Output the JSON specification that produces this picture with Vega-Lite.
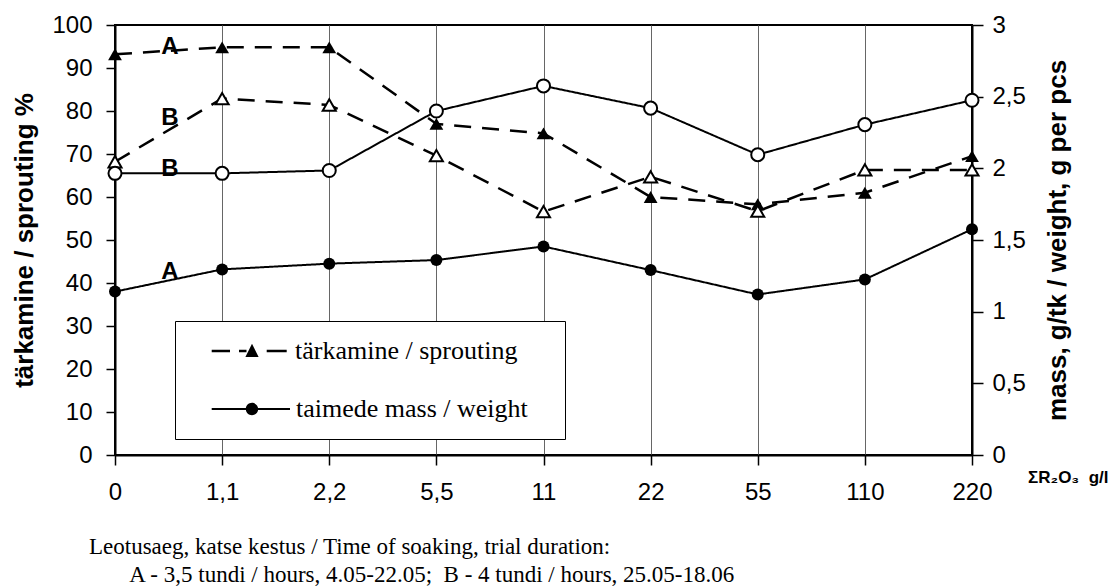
{
  "$schema": "https://vega.github.io/schema/vega-lite/v6.json",
  "width": 857,
  "height": 430,
  "autosize": {"type": "none"},
  "padding": {"left": 115, "top": 25, "right": 141, "bottom": 133},
  "background": "white",
  "config": {
    "view": {"stroke": "black", "strokeWidth": 2},
    "font": "Liberation Sans",
    "axis": {
      "labelFont": "Liberation Sans",
      "labelColor": "black",
      "labelFontSize": 24,
      "titleFont": "Liberation Sans",
      "titleColor": "black",
      "titleFontWeight": "bold",
      "domainColor": "black",
      "domainWidth": 2,
      "tickColor": "black",
      "tickWidth": 1.5
    }
  },
  "title": {
    "text": [
      "Leotusaeg, katse kestus / Time of soaking, trial duration:",
      "\u200b\u00a0\u00a0\u00a0\u00a0\u00a0\u00a0\u00a0A - 3,5 tundi / hours, 4.05-22.05;\u00a0 B - 4 tundi / hours, 25.05-18.06"
    ],
    "orient": "bottom",
    "anchor": "start",
    "frame": "group",
    "font": "Liberation Serif",
    "fontSize": 23,
    "fontWeight": "normal",
    "color": "black",
    "dx": -26,
    "offset": 32,
    "lineHeight": 28
  },
  "datasets": {
    "sprout": [
      {"x": "0", "series": "A", "measure": "tärkamine / sprouting", "value": 93.2},
      {"x": "1,1", "series": "A", "measure": "tärkamine / sprouting", "value": 94.8},
      {"x": "2,2", "series": "A", "measure": "tärkamine / sprouting", "value": 94.8},
      {"x": "5,5", "series": "A", "measure": "tärkamine / sprouting", "value": 77.0},
      {"x": "11", "series": "A", "measure": "tärkamine / sprouting", "value": 74.8},
      {"x": "22", "series": "A", "measure": "tärkamine / sprouting", "value": 60.0},
      {"x": "55", "series": "A", "measure": "tärkamine / sprouting", "value": 58.3},
      {"x": "110", "series": "A", "measure": "tärkamine / sprouting", "value": 61.0},
      {"x": "220", "series": "A", "measure": "tärkamine / sprouting", "value": 69.5},
      {"x": "0", "series": "B", "measure": "tärkamine / sprouting", "value": 68.2},
      {"x": "1,1", "series": "B", "measure": "tärkamine / sprouting", "value": 82.9},
      {"x": "2,2", "series": "B", "measure": "tärkamine / sprouting", "value": 81.4},
      {"x": "5,5", "series": "B", "measure": "tärkamine / sprouting", "value": 69.6},
      {"x": "11", "series": "B", "measure": "tärkamine / sprouting", "value": 56.6},
      {"x": "22", "series": "B", "measure": "tärkamine / sprouting", "value": 64.7},
      {"x": "55", "series": "B", "measure": "tärkamine / sprouting", "value": 56.7},
      {"x": "110", "series": "B", "measure": "tärkamine / sprouting", "value": 66.3},
      {"x": "220", "series": "B", "measure": "tärkamine / sprouting", "value": 66.3}
    ],
    "weight": [
      {"x": "0", "series": "A", "measure": "taimede mass / weight", "value": 1.14},
      {"x": "1,1", "series": "A", "measure": "taimede mass / weight", "value": 1.295},
      {"x": "2,2", "series": "A", "measure": "taimede mass / weight", "value": 1.335},
      {"x": "5,5", "series": "A", "measure": "taimede mass / weight", "value": 1.36},
      {"x": "11", "series": "A", "measure": "taimede mass / weight", "value": 1.455},
      {"x": "22", "series": "A", "measure": "taimede mass / weight", "value": 1.29},
      {"x": "55", "series": "A", "measure": "taimede mass / weight", "value": 1.12},
      {"x": "110", "series": "A", "measure": "taimede mass / weight", "value": 1.225},
      {"x": "220", "series": "A", "measure": "taimede mass / weight", "value": 1.575},
      {"x": "0", "series": "B", "measure": "taimede mass / weight", "value": 1.965},
      {"x": "1,1", "series": "B", "measure": "taimede mass / weight", "value": 1.965},
      {"x": "2,2", "series": "B", "measure": "taimede mass / weight", "value": 1.985},
      {"x": "5,5", "series": "B", "measure": "taimede mass / weight", "value": 2.40},
      {"x": "11", "series": "B", "measure": "taimede mass / weight", "value": 2.575},
      {"x": "22", "series": "B", "measure": "taimede mass / weight", "value": 2.42},
      {"x": "55", "series": "B", "measure": "taimede mass / weight", "value": 2.095},
      {"x": "110", "series": "B", "measure": "taimede mass / weight", "value": 2.305},
      {"x": "220", "series": "B", "measure": "taimede mass / weight", "value": 2.475}
    ],
    "notes": [
      {"x": "0", "lbl": "A", "value": 94.8},
      {"x": "0", "lbl": "B", "value": 78.3},
      {"x": "0", "lbl": "B", "value": 66.6},
      {"x": "0", "lbl": "A", "value": 42.6}
    ]
  },
  "encoding": {
    "x": {
      "field": "x",
      "type": "ordinal",
      "sort": ["0", "1,1", "2,2", "5,5", "11", "22", "55", "110", "220"],
      "scale": {"type": "point", "padding": 0, "domain": ["0", "1,1", "2,2", "5,5", "11", "22", "55", "110", "220"]},
      "axis": {
        "title": "ΣR₂O₃\u00a0 g/l",
        "titleX": 993,
        "titleY": 22,
        "titleAlign": "right",
        "titleBaseline": "middle",
        "titleFontSize": 17,
        "titleAngle": 0,
        "labelAngle": 0,
        "labelPadding": 15,
        "tickSize": 10,
        "grid": true,
        "gridColor": "#666666",
        "gridWidth": 1
      }
    }
  },
  "layer": [
    {
      "data": {"name": "sprout"},
      "encoding": {
        "y": {
          "field": "value",
          "type": "quantitative",
          "scale": {"domain": [0, 100], "nice": false, "zero": true},
          "axis": {
            "orient": "left",
            "title": "tärkamine / sprouting %",
            "titleX": -91,
            "titleY": 215,
            "titleAngle": 270,
            "titleAlign": "center",
            "titleBaseline": "middle",
            "titleFontSize": 26,
            "values": [0, 10, 20, 30, 40, 50, 60, 70, 80, 90, 100],
            "tickSize": 9,
            "labelPadding": 14,
            "grid": false
          }
        }
      },
      "layer": [
        {
          "mark": {"type": "line", "color": "black", "strokeWidth": 2.5},
          "encoding": {
            "detail": {"field": "series"},
            "order": {"value": null},
            "strokeDash": {
              "field": "measure",
              "type": "nominal",
              "scale": {"domain": ["tärkamine / sprouting"], "range": [[17, 11]]},
              "legend": {
                "title": "\u200b\u00a0\u00a0\u00a0\u00a0\u00a0\u00a0\u00a0\u00a0\u00a0\u00a0\u00a0\u00a0\u00a0\u00a0\u00a0\u00a0taimede mass / weight\u00a0\u00a0\u00a0\u200b",
                "titleOrient": "bottom",
                "titleFont": "Liberation Serif",
                "titleFontSize": 26,
                "titleFontWeight": "normal",
                "titleColor": "black",
                "titlePadding": 32,
                "titleLimit": 1000,
                "titleAnchor": "start",
                "orient": "none",
                "legendX": 60,
                "legendY": 296,
                "zindex": 0,
                "direction": "vertical",
                "padding": 17,
                "strokeColor": "black",
                "fillColor": "white",
                "labelFont": "Liberation Serif",
                "labelFontSize": 26,
                "labelColor": "black",
                "labelLimit": 0,
                "symbolType": "M-4.03,-0.12L-2.2,-0.12L-2.2,0.12L-4.03,0.12Z M-1.3,-0.12L-0.55,-0.12L-0.55,0.12L-1.3,0.12Z M0,-0.72L0.66,0.6L-0.66,0.6Z M1.47,-0.12L3.47,-0.12L3.47,0.12L1.47,0.12Z",
                "symbolSize": 400,
                "symbolStrokeWidth": 0,
                "symbolFillColor": "black",
                "symbolOpacity": 1,
                "symbolOffset": 47,
                "labelOffset": 30
              }
            }
          }
        },
        {
          "transform": [{"filter": "datum.series === 'A'"}],
          "mark": {"type": "point", "shape": "triangle-up", "filled": true, "fill": "black", "size": 190, "opacity": 1, "strokeWidth": 0}
        },
        {
          "transform": [{"filter": "datum.series === 'B'"}],
          "mark": {"type": "point", "shape": "triangle-up", "filled": true, "fill": "white", "stroke": "black", "strokeWidth": 2, "size": 170, "opacity": 1}
        }
      ]
    },
    {
      "data": {"name": "weight"},
      "encoding": {
        "y": {
          "field": "value",
          "type": "quantitative",
          "scale": {"domain": [0, 3], "nice": false, "zero": true},
          "axis": {
            "orient": "right",
            "title": "mass, g/tk / weight, g per pcs",
            "titleX": 85,
            "titleY": 215,
            "titleAngle": 270,
            "titleAlign": "center",
            "titleBaseline": "middle",
            "titleFontSize": 26,
            "values": [0, 0.5, 1, 1.5, 2, 2.5, 3],
            "format": "~g",
            "labelExpr": "replace(datum.label, '.', ',')",
            "tickSize": 11,
            "labelPadding": 9,
            "grid": false
          }
        }
      },
      "layer": [
        {
          "mark": {"type": "line", "color": "black", "strokeWidth": 2},
          "encoding": {
            "detail": {"field": "series"},
            "order": {"value": null},
            "strokeDash": {
              "field": "measure",
              "type": "nominal",
              "scale": {"domain": ["taimede mass / weight"], "range": [[1, 0]]},
              "legend": {
                "title": null,
                "orient": "none",
                "legendX": 60,
                "legendY": 354,
                "zindex": 1,
                "direction": "vertical",
                "padding": 17,
                "strokeColor": "transparent",
                "fillColor": "transparent",
                "labelFont": "Liberation Serif",
                "labelFontSize": 26,
                "labelColor": "black",
                "labelLimit": 0,
                "labelExpr": "''",
                "symbolType": "M-4.03,-0.1L-0.6,-0.1L-0.6,0.1L-4.03,0.1Z M0.6,-0.1L3.8,-0.1L3.8,0.1L0.6,0.1Z M0.62,0A0.62,0.62 0 1,1 -0.62,0A0.62,0.62 0 1,1 0.62,0Z",
                "symbolSize": 400,
                "symbolStrokeWidth": 0,
                "symbolFillColor": "black",
                "symbolOpacity": 1,
                "symbolOffset": 47,
                "labelOffset": 30
              }
            }
          }
        },
        {
          "transform": [{"filter": "datum.series === 'A'"}],
          "mark": {"type": "point", "shape": "circle", "filled": true, "fill": "black", "size": 144, "opacity": 1, "strokeWidth": 0}
        },
        {
          "transform": [{"filter": "datum.series === 'B'"}],
          "mark": {"type": "point", "shape": "circle", "filled": true, "fill": "white", "stroke": "black", "strokeWidth": 2, "size": 170, "opacity": 1}
        }
      ]
    },
    {
      "data": {"name": "notes"},
      "mark": {"type": "text", "dx": 55, "align": "center", "baseline": "middle", "font": "Liberation Sans", "fontSize": 24, "fontWeight": "bold", "color": "black"},
      "encoding": {
        "y": {"field": "value", "type": "quantitative", "scale": {"domain": [0, 100], "nice": false}, "axis": null},
        "text": {"field": "lbl"}
      }
    }
  ],
  "resolve": {"scale": {"y": "independent", "strokeDash": "independent"}}
}
